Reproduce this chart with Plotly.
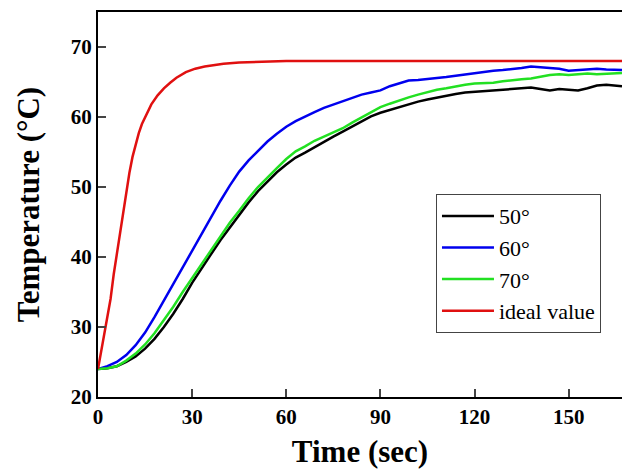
import plotly.graph_objects as go

t_meas = [0, 3, 6, 9, 12, 15, 18, 21, 24, 27, 30, 33, 36, 39, 42, 45, 48, 51, 54, 57,
          60, 63, 66, 69, 72, 75, 78, 81, 84, 87, 90, 93, 96, 99, 102, 105, 108, 111,
          114, 117, 120, 123, 126, 129, 132, 135, 138, 141, 144, 147, 150, 153, 156,
          159, 162, 165, 167]

temp_50 = [24.0, 24.1, 24.4, 25.0, 25.8, 26.9, 28.3, 30.0, 31.9, 34.0, 36.3, 38.4, 40.4,
           42.4, 44.2, 46.0, 47.8, 49.4, 50.8, 52.1, 53.2, 54.2, 54.9, 55.7, 56.5, 57.2,
           57.9, 58.6, 59.4, 60.1, 60.6, 61.0, 61.5, 61.9, 62.2, 62.5, 62.8, 63.0, 63.3,
           63.5, 63.6, 63.7, 63.9, 64.0, 64.1, 64.1, 64.2, 64.0, 63.8, 64.0, 63.9, 63.8,
           64.1, 64.5, 64.6, 64.5, 64.4]

temp_60 = [24.0, 24.4, 25.0, 26.0, 27.4, 29.2, 31.4, 33.8, 36.1, 38.6, 41.0, 43.4, 45.7,
           48.0, 50.2, 52.2, 53.8, 55.2, 56.5, 57.6, 58.6, 59.4, 60.1, 60.7, 61.3, 61.8,
           62.2, 62.7, 63.2, 63.5, 63.8, 64.4, 64.8, 65.2, 65.3, 65.4, 65.6, 65.7, 65.9,
           66.1, 66.3, 66.5, 66.6, 66.7, 66.8, 67.0, 67.2, 67.1, 67.0, 66.9, 66.6, 66.7,
           66.9, 66.9, 66.8, 66.7, 66.7]

temp_70 = [24.0, 24.1, 24.4, 25.2, 26.2, 27.5, 29.1, 31.0, 32.9, 35.0, 37.0, 39.0, 41.0,
           43.0, 44.9, 46.6, 48.4, 50.0, 51.4, 52.7, 54.0, 55.1, 55.8, 56.6, 57.2, 57.8,
           58.4, 59.2, 59.9, 60.6, 61.4, 61.9, 62.4, 62.8, 63.2, 63.6, 63.9, 64.1, 64.4,
           64.6, 64.8, 64.8, 64.9, 65.1, 65.3, 65.4, 65.5, 65.8, 66.0, 66.1, 66.0, 66.1,
           66.2, 66.1, 66.2, 66.2, 66.3]

t_ideal = [0, 1, 2, 3, 4, 5, 6, 7, 8, 9, 10, 11, 12, 13, 14, 15, 17, 19, 21, 23, 25, 28,
           31, 34, 37, 40, 45, 50, 60, 80, 100, 120, 140, 167]
temp_ideal = [24.0, 26.5, 28.8, 31.0, 34.0, 37.5, 40.5, 43.5, 46.5, 49.5, 52.0, 54.3, 56.2,
              57.7, 59.0, 60.0, 61.8, 63.1, 64.1, 64.9, 65.6, 66.4, 66.9, 67.2, 67.4, 67.6,
              67.8, 67.9, 68.0, 68.0, 68.0, 68.0, 68.0, 68.0]

x_ticks = [0, 30, 60, 90, 120, 150]
y_ticks = [20, 30, 40, 50, 60, 70]

series = [
    ("50°", t_meas, temp_50, "#000000"),
    ("60°", t_meas, temp_60, "#0000ee"),
    ("70°", t_meas, temp_70, "#22e022"),
    ("ideal value", t_ideal, temp_ideal, "#e01010"),
]

fig = go.Figure()
for name, x, y, c in series:
    fig.add_trace(go.Scatter(x=x, y=y, mode="lines", name=name,
                             line=dict(color=c, width=2.5)))

font_fam = "Times New Roman, Liberation Serif, DejaVu Serif, serif"
fig.update_layout(
    width=622, height=469,
    margin=dict(l=98, r=0, t=12, b=72),
    paper_bgcolor="white", plot_bgcolor="white",
    font=dict(family=font_fam, color="black"),
    showlegend=True,
    legend=dict(x=0.645, y=0.527, xanchor="left", yanchor="top",
                bordercolor="#444444", borderwidth=1, bgcolor="white",
                font=dict(size=22, family=font_fam), tracegroupgap=0,
                itemwidth=52),
    xaxis=dict(range=[0, 167], tickvals=x_ticks, ticks="inside", ticklen=8,
               tickwidth=2, showline=True, linewidth=2, linecolor="black",
               mirror=True, showgrid=False, zeroline=False,
               tickfont=dict(size=21, family=font_fam, weight="bold"),
               title=dict(text="Time (sec)",
                          font=dict(size=31, family=font_fam, weight="bold"),
                          standoff=12)),
    yaxis=dict(range=[20, 75], tickvals=y_ticks, ticks="inside", ticklen=8,
               tickwidth=2, showline=True, linewidth=2, linecolor="black",
               showgrid=False, zeroline=False,
               tickfont=dict(size=21, family=font_fam, weight="bold"),
               title=dict(text="Temperature (°C)",
                          font=dict(size=31, family=font_fam, weight="bold"),
                          standoff=22)),
)

fig.write_html("out.html")
